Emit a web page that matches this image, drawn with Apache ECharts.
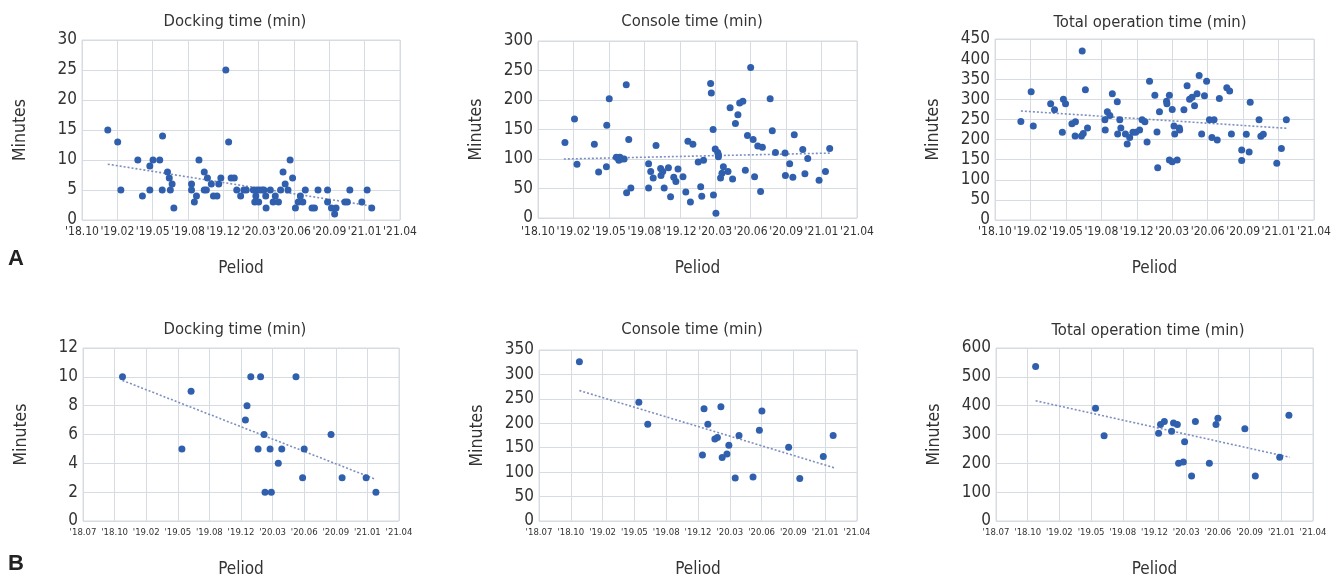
<!DOCTYPE html>
<html>
<head>
<meta charset="utf-8">
<style>
  html, body { margin: 0; padding: 0; background: #fff; }
  #chart { width: 1341px; height: 579px; }
</style>
<script src="https://cdn.jsdelivr.net/npm/echarts@6/dist/echarts.min.js"></script>
</head>
<body>
<div id="chart"></div>
<script>
'use strict';

/* ── Tick labels (evenly spaced, x value = tick index) ── */
const periodsA = ["'18.10", "'19.02", "'19.05", "'19.08", "'19.12", "'20.03", "'20.06", "'20.09", "'21.01", "'21.04"];
const periodsB = ["'18.07", "'18.10", "'19.02", "'19.05", "'19.08", "'19.12", "'20.03", "'20.06", "'20.09", "'21.01", "'21.04"];

/* ── Row A ── */
const dockingA = [
  [0.73, 15], [1.01, 13], [1.10, 5], [1.58, 10], [1.71, 4], [1.92, 5], [1.92, 9], [2.01, 10],
  [2.20, 10], [2.28, 14], [2.27, 5], [2.42, 8], [2.47, 7], [2.50, 5], [2.55, 6], [2.60, 2],
  [3.10, 6], [3.10, 5], [3.18, 3], [3.24, 4], [3.31, 10], [3.46, 8], [3.46, 5], [3.52, 5],
  [3.55, 7], [3.66, 6], [3.72, 4], [3.82, 4], [3.87, 6], [3.93, 7], [4.07, 25], [4.15, 13],
  [4.22, 7], [4.31, 7], [4.38, 5], [4.49, 4], [4.58, 5], [4.65, 5], [4.85, 5], [4.89, 3],
  [4.92, 4], [4.95, 5], [5.00, 3], [5.02, 5], [5.10, 5], [5.15, 5], [5.20, 4], [5.21, 2],
  [5.33, 5], [5.41, 3], [5.47, 4], [5.56, 3], [5.62, 5], [5.69, 8], [5.75, 6], [5.83, 5],
  [5.89, 10], [5.96, 7], [6.04, 2], [6.12, 3], [6.18, 4], [6.25, 3], [6.32, 5], [6.51, 2],
  [6.58, 2], [6.68, 5], [6.95, 5], [6.95, 3], [7.06, 2], [7.15, 1], [7.19, 2], [7.44, 3],
  [7.51, 3], [7.58, 5], [7.92, 3], [8.07, 5], [8.20, 2]
];
const dockingATrend = [[0.73, 9.3], [8.22, 2.3]];

const consoleA = [
  [0.76, 128], [1.03, 168], [1.10, 91], [1.59, 125], [1.71, 78], [1.94, 157], [1.93, 87], [2.01, 202],
  [2.21, 103], [2.28, 98], [2.31, 103], [2.36, 100], [2.43, 100], [2.49, 226], [2.50, 43], [2.56, 133],
  [2.62, 51], [3.12, 92], [3.12, 51], [3.18, 79], [3.25, 68], [3.33, 123], [3.46, 84], [3.47, 72],
  [3.52, 79], [3.56, 51], [3.68, 85], [3.74, 36], [3.83, 69], [3.89, 62], [3.95, 83], [4.09, 70],
  [4.17, 44], [4.23, 130], [4.30, 27], [4.37, 125], [4.52, 95], [4.59, 53], [4.62, 37], [4.67, 98],
  [4.87, 228], [4.89, 212], [4.94, 150], [4.95, 39], [5.00, 117], [5.02, 8], [5.07, 111], [5.09, 107],
  [5.09, 104], [5.15, 68], [5.19, 76], [5.23, 87], [5.36, 79], [5.42, 187], [5.49, 66], [5.57, 160],
  [5.64, 175], [5.69, 195], [5.78, 198], [5.85, 81], [5.91, 140], [6.00, 255], [6.07, 133], [6.11, 70],
  [6.20, 122], [6.28, 45], [6.33, 120], [6.55, 202], [6.61, 148], [6.70, 111], [6.97, 110], [6.98, 72],
  [7.10, 92], [7.19, 69], [7.23, 141], [7.47, 116], [7.53, 75], [7.61, 101], [7.93, 64], [8.11, 79],
  [8.23, 118]
];
const consoleATrend = [[0.73, 100], [8.23, 110]];

const totalA = [
  [0.73, 245], [1.02, 319], [1.08, 234], [1.57, 289], [1.68, 274], [1.90, 218], [1.93, 300], [1.99, 289],
  [2.17, 239], [2.27, 244], [2.26, 209], [2.44, 209], [2.46, 420], [2.49, 215], [2.55, 324], [2.61, 229],
  [3.10, 249], [3.11, 224], [3.17, 269], [3.24, 260], [3.31, 314], [3.45, 294], [3.46, 214], [3.52, 249],
  [3.55, 229], [3.68, 214], [3.73, 189], [3.80, 205], [3.89, 218], [3.97, 218], [4.08, 224], [4.15, 249],
  [4.23, 244], [4.29, 194], [4.36, 345], [4.51, 310], [4.57, 219], [4.59, 130], [4.64, 269], [4.84, 295],
  [4.85, 289], [4.92, 310], [4.92, 149], [5.00, 145], [5.00, 275], [5.05, 234], [5.07, 214], [5.14, 149],
  [5.20, 229], [5.21, 224], [5.33, 274], [5.42, 334], [5.49, 300], [5.56, 305], [5.63, 284], [5.70, 314],
  [5.76, 359], [5.83, 214], [5.91, 309], [5.97, 345], [6.05, 249], [6.12, 205], [6.18, 249], [6.27, 199],
  [6.33, 302], [6.54, 329], [6.62, 321], [6.67, 214], [6.96, 174], [6.96, 148], [7.09, 213], [7.17, 169],
  [7.20, 293], [7.45, 249], [7.50, 208], [7.57, 213], [7.95, 141], [8.08, 178], [8.22, 249]
];
const totalATrend = [[0.73, 271], [8.22, 228]];

/* ── Row B ── */
const dockingB = [
  [1.25, 10], [3.13, 5], [3.42, 9], [5.14, 7], [5.19, 8], [5.31, 10], [5.54, 5], [5.62, 10],
  [5.73, 6], [5.76, 2], [5.92, 5], [5.96, 2], [6.18, 4], [6.29, 5], [6.74, 10], [6.95, 3],
  [7.00, 5], [7.85, 6], [8.20, 3], [8.96, 3], [9.27, 2]
];
const dockingBTrend = [[1.25, 9.75], [9.25, 2.9]];

const consoleB = [
  [1.27, 326], [3.14, 243], [3.42, 198], [5.14, 135], [5.19, 230], [5.31, 198], [5.53, 168], [5.61, 171],
  [5.72, 234], [5.76, 130], [5.91, 137], [5.97, 155], [6.17, 88], [6.29, 175], [6.73, 90], [6.93, 186],
  [7.01, 225], [7.85, 151], [8.20, 87], [8.94, 132], [9.25, 175]
];
const consoleBTrend = [[1.27, 267], [9.28, 109]];

const totalB = [
  [1.25, 536], [3.14, 391], [3.41, 296], [5.13, 304], [5.19, 335], [5.31, 345], [5.54, 311], [5.60, 340],
  [5.72, 335], [5.76, 200], [5.91, 205], [5.95, 275], [6.17, 156], [6.29, 345], [6.73, 200], [6.94, 335],
  [7.00, 356], [7.85, 320], [8.18, 156], [8.95, 221], [9.24, 367]
];
const totalBTrend = [[1.25, 417], [9.27, 221]];

/* ── Styles ── */
const NARROW = "'DejaVu Sans Condensed', 'Liberation Sans', sans-serif";
const TEXT = '#333';
const GRID_LINE = '#d7dbe2';
const DOT = '#3060ad';
const TREND = '#7d8fc0';

const panels = [
  { title: 'Docking time (min)',         data: dockingA, trend: dockingATrend, yMax: 30,  yStep: 5,   labels: periodsA, box: { left: 82,  top: 40,  width: 318, height: 180 }, cx: 235,  ty: 13,  xFont: 12,  xMargin: 6, nGap: 40 },
  { title: 'Console time (min)',         data: consoleA, trend: consoleATrend, yMax: 300, yStep: 50,  labels: periodsA, box: { left: 538, top: 41,  width: 319, height: 177 }, cx: 692,  ty: 13,  xFont: 12,  xMargin: 8, nGap: 42 },
  { title: 'Total operation time (min)', data: totalA,   trend: totalATrend,   yMax: 450, yStep: 50,  labels: periodsA, box: { left: 995, top: 39,  width: 319, height: 181 }, cx: 1150, ty: 14,  xFont: 12,  xMargin: 6, nGap: 40 },
  { title: 'Docking time (min)',         data: dockingB, trend: dockingBTrend, yMax: 12,  yStep: 2,   labels: periodsB, box: { left: 83,  top: 348, width: 316, height: 180 }, cx: 235,  ty: 321, xFont: 9.5, xMargin: 7, nGap: 40 },
  { title: 'Console time (min)',         data: consoleB, trend: consoleBTrend, yMax: 350, yStep: 50,  labels: periodsB, box: { left: 539, top: 350, width: 318, height: 178 }, cx: 692,  ty: 321, xFont: 9.5, xMargin: 7, nGap: 40 },
  { title: 'Total operation time (min)', data: totalB,   trend: totalBTrend,   yMax: 600, yStep: 100, labels: periodsB, box: { left: 996, top: 348, width: 317, height: 180 }, cx: 1148, ty: 322, xFont: 9.5, xMargin: 7, nGap: 40 }
];

const chart = echarts.init(document.getElementById('chart'), null, { renderer: 'canvas' });

const option = {
  backgroundColor: '#fff',
  animation: false,
  title: panels.map(p => ({
    text: p.title,
    left: p.cx,
    top: p.ty,
    textAlign: 'center',
    padding: 0,
    textStyle: { fontFamily: NARROW, fontSize: 16.5, fontWeight: 'normal', color: TEXT }
  })),
  grid: panels.map(p => ({
    ...p.box,
    show: true,
    borderColor: GRID_LINE,
    borderWidth: 1,
    backgroundColor: 'transparent',
    containLabel: false
  })),
  xAxis: panels.map((p, i) => ({
    type: 'value',
    gridIndex: i,
    min: 0,
    max: p.labels.length - 1,
    interval: 1,
    name: 'Peliod',
    nameLocation: 'middle',
    nameGap: p.nGap,
    nameTextStyle: { fontFamily: NARROW, fontSize: 17, color: TEXT },
    axisLine: { show: false },
    axisTick: { show: false },
    splitLine: { show: true, lineStyle: { color: GRID_LINE, width: 1 } },
    axisLabel: {
      show: true,
      hideOverlap: false,
      margin: p.xMargin,
      fontFamily: NARROW,
      fontSize: p.xFont,
      color: TEXT,
      formatter: v => p.labels[Math.round(v)] || ''
    }
  })),
  yAxis: panels.map((p, i) => ({
    type: 'value',
    gridIndex: i,
    min: 0,
    max: p.yMax,
    interval: p.yStep,
    name: 'Minutes',
    nameLocation: 'middle',
    nameRotate: 90,
    nameGap: 53,
    nameTextStyle: { fontFamily: NARROW, fontSize: 17.5, color: TEXT },
    axisLine: { show: false },
    axisTick: { show: false },
    splitLine: { show: true, lineStyle: { color: GRID_LINE, width: 1 } },
    axisLabel: {
      show: true,
      margin: 5,
      fontFamily: NARROW,
      fontSize: 17,
      color: TEXT
    }
  })),
  series: panels.flatMap((p, i) => [
    {
      type: 'line',
      xAxisIndex: i,
      yAxisIndex: i,
      data: p.trend,
      symbol: 'none',
      silent: true,
      z: 1,
      lineStyle: { color: TREND, width: 1.6, type: [2, 2] }
    },
    {
      type: 'scatter',
      xAxisIndex: i,
      yAxisIndex: i,
      data: p.data,
      symbol: 'circle',
      symbolSize: 7,
      z: 2,
      itemStyle: { color: DOT, opacity: 1 }
    }
  ]),
  graphic: [
    { type: 'text', left: 8,  top: 248, style: { text: 'A', fontFamily: "'Liberation Sans', Arial, sans-serif", fontWeight: 'bold', fontSize: 22, fill: '#222' } },
    { type: 'text', left: 8,  top: 553, style: { text: 'B', fontFamily: "'Liberation Sans', Arial, sans-serif", fontWeight: 'bold', fontSize: 22, fill: '#222' } }
  ]
};

chart.setOption(option);
window.addEventListener('resize', () => chart.resize());
</script>
</body>
</html>
